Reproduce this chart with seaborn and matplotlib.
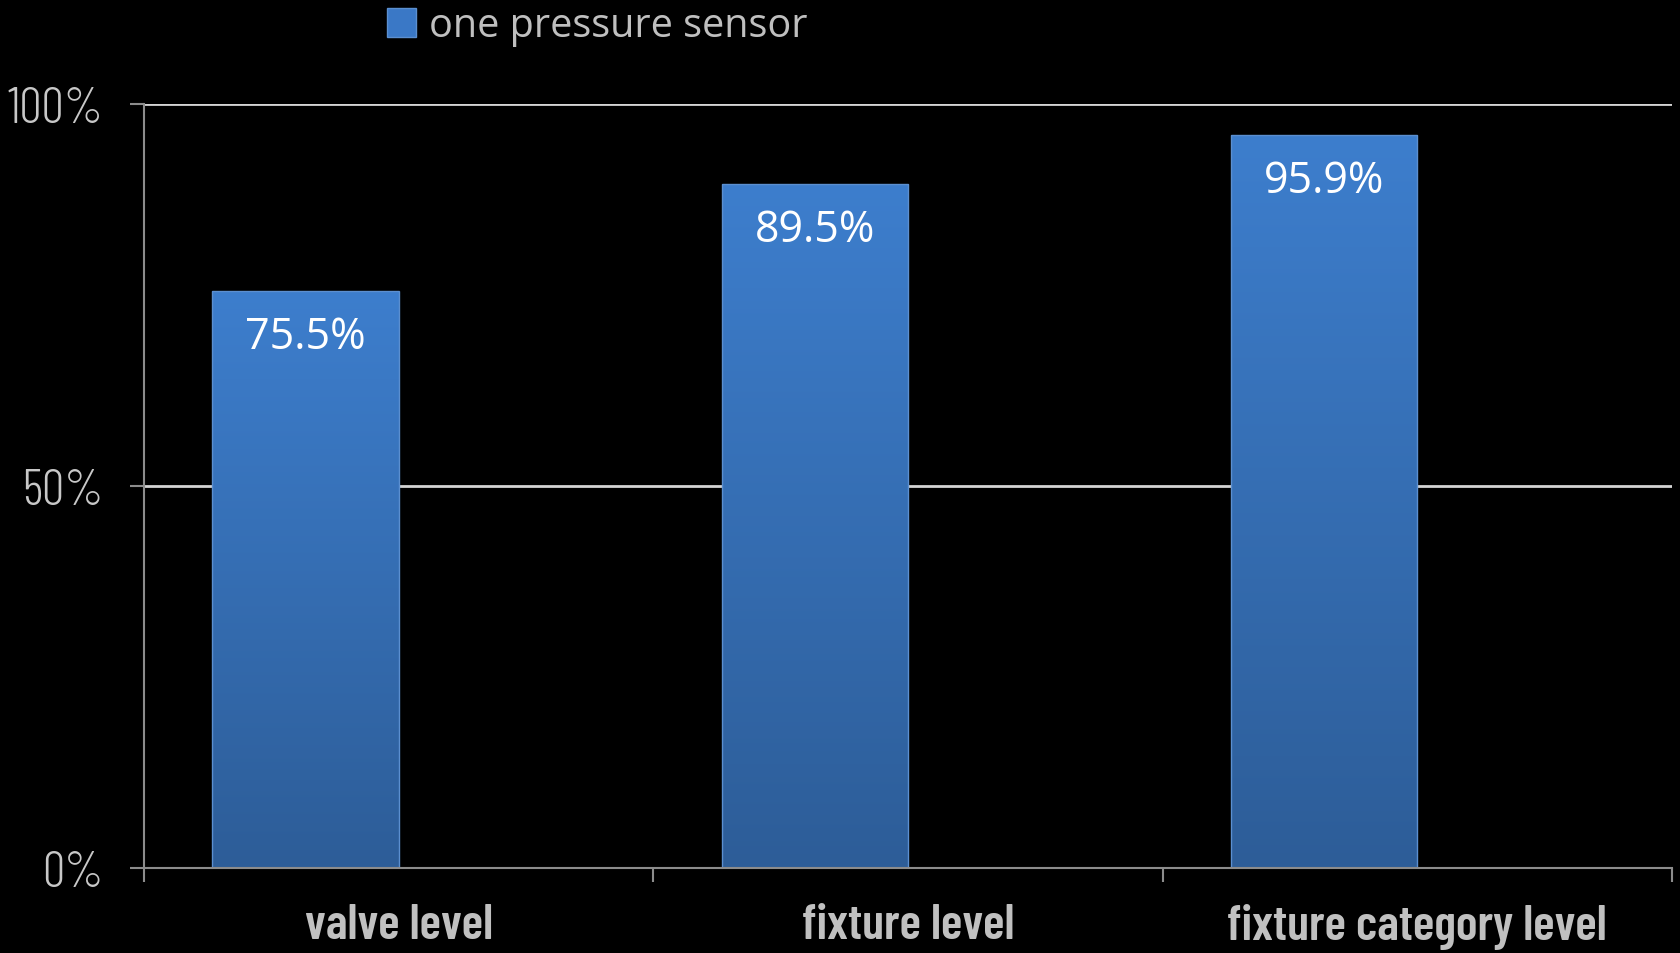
import numpy as np
import pandas as pd
import matplotlib
matplotlib.use("Agg")
import matplotlib.pyplot as plt
import matplotlib.colors as mcolors
from matplotlib.patches import Patch
import seaborn as sns

# Detection accuracy by aggregation level
categories = ["valve level", "fixture level", "fixture category level"]
values = [75.5, 89.5, 95.9]
series_name = "one pressure sensor"
y_ticks = [0, 50, 100]
y_tick_labels = ["0%", "50%", "100%"]

df = pd.DataFrame({"level": categories, "share": values, "series": series_name})

sns.set_theme(style="dark")
plt.rcParams["font.family"] = ["Open Sans", "DejaVu Sans"]

fig = plt.figure(figsize=(16.8, 9.54), dpi=100, facecolor="black")
ax = fig.add_axes([144 / 1680, 1 - 869 / 954, (1672 - 144) / 1680, (869 - 105) / 954])
ax.set_facecolor("black")

TOP = "#3d7ecd"
BOTTOM = "#2d5d98"
EDGE = "#5b8fd0"

# an empty second hue slot keeps the clustered-column offset of the bars
sns.barplot(data=df, x="level", y="share", hue="series",
            hue_order=[series_name, ""], dodge=True, width=0.732,
            order=categories, palette=[TOP, TOP], legend=False, ax=ax,
            edgecolor=EDGE, linewidth=1.0, zorder=3)

# vertical gradient inside every bar, value label near the top
cmap = mcolors.LinearSegmentedColormap.from_list("bar", [BOTTOM, TOP])
grad = np.linspace(0, 1, 256).reshape(-1, 1)
for p in list(ax.patches):
    h = p.get_height()
    if not np.isfinite(h) or h <= 0:
        continue
    x0 = p.get_x()
    w = p.get_width()
    im = ax.imshow(grad, cmap=cmap, origin="lower", aspect="auto",
                   extent=[x0, x0 + w, 0, h], zorder=3.5)
    im.set_clip_path(p)
    p.set_facecolor("none")
    p.set_zorder(4)
    ax.annotate(f"{h:.1f}%", xy=(x0 + w / 2, h), xytext=(0, -33),
                textcoords="offset points", ha="center", va="center",
                color="white", fontsize=31, family=["Open Sans", "DejaVu Sans"],
                zorder=5)
ax.set_xlim(-0.5, len(categories) - 0.5)
ax.set_ylim(0, 100)

# gridlines
ax.grid(False)
for yv in y_ticks[1:]:
    ax.axhline(yv, color="#d4d4d4", lw=2, zorder=1)

for s in ["top", "right"]:
    ax.spines[s].set_visible(False)
for s in ["left", "bottom"]:
    ax.spines[s].set_visible(True)
    ax.spines[s].set_color("#8c8c8c")
    ax.spines[s].set_linewidth(1.5)
    ax.spines[s].set_zorder(6)

ax.set_yticks(y_ticks)
ax.set_yticklabels(y_tick_labels, family=["Barlow Condensed", "DejaVu Sans"],
                   fontweight=300)
ax.tick_params(axis="y", which="major", left=True, length=10, width=1.5,
               color="#8c8c8c", pad=19, labelsize=36, labelcolor="#c8c8c8")

# boundary ticks between categories, labels centred under each category
n = len(categories)
ax.set_xticks(np.arange(-0.5, n, 1.0))
ax.set_xticklabels([""] * (n + 1))
ax.set_xticks(np.arange(n), minor=True)
ax.set_xticklabels(categories, minor=True, fontweight=600,
                   family=["Barlow Condensed", "DejaVu Sans"])
ax.tick_params(axis="x", which="major", bottom=True, length=10, width=1.5,
               color="#8c8c8c", direction="out")
ax.tick_params(axis="x", which="minor", bottom=False, length=0, pad=25,
               labelsize=36, labelcolor="#c0c0c0")
ax.set_xlabel("")
ax.set_ylabel("")

handle = Patch(facecolor="#3a78c6", edgecolor=EDGE, linewidth=1)
fig.legend([handle], [series_name], loc="center left",
           bbox_to_anchor=(387 / 1680, 1 - 27 / 954), frameon=False,
           handlelength=0.72, handleheight=0.72, handletextpad=0.35,
           borderpad=0, borderaxespad=0,
           prop={"family": ["Open Sans", "DejaVu Sans"], "size": 28.5},
           labelcolor="#bfbfbf")

fig.savefig("out.png", dpi=100, facecolor="black")
